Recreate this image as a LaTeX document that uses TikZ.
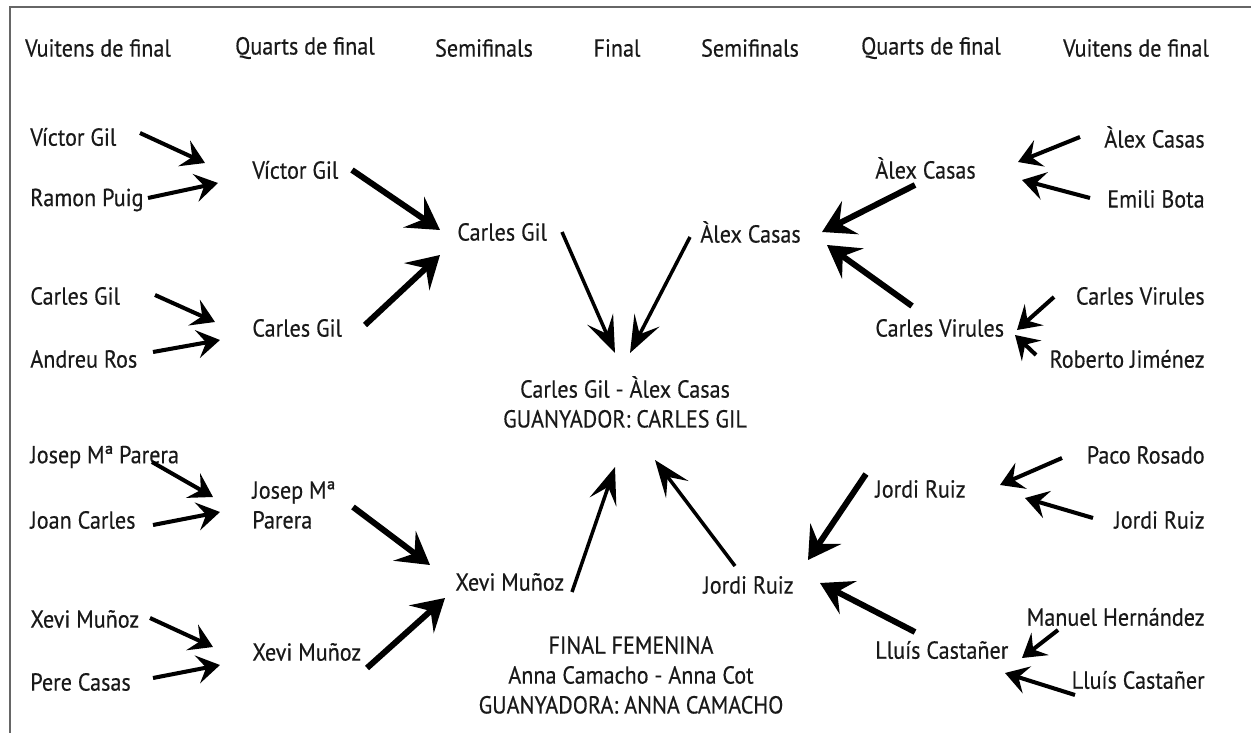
\documentclass[tikz,border=0pt]{standalone}
\usepackage{fontspec}
\setmainfont{PT Sans}[FakeStretch=0.9, FakeBold=0.4]
\usepackage{tikz}
\usetikzlibrary{arrows.meta,calc}

\begin{document}
\begin{tikzpicture}[x=0.02cm, y=-0.02cm,
    every node/.style={inner sep=0pt, text=black!90, font=\fontsize{14}{17}\selectfont},
    arr/.style={line width=2.3pt, -{Stealth[length=13pt, width=16pt, inset=5pt]}},
    arrbig/.style={line width=3.4pt, -{Stealth[length=18pt, width=21pt, inset=7pt]}},
    arrmid/.style={line width=2pt, -{Stealth[length=21pt, width=16pt, inset=9pt]}}]
  \useasboundingbox (0,0) rectangle (1251,733);
  \draw[black!60, line width=0.9pt] (10,733) -- (10,7) -- (1251,7);

  % rondes
  \node (hVL) at (98,48) {Vuitens de final};
  \node (hQL) at (305,48) {Quarts de final};
  \node (hSL) at (484,48) {Semifinals};
  \node (hF) at (617,48) {Final};
  \node (hSR) at (750,48) {Semifinals};
  \node (hQR) at (931,48) {Quarts de final};
  \node (hVR) at (1136,48) {Vuitens de final};

  % vuitens, esquerra
  \node (vl1) at (30,137) [anchor=west] {Víctor Gil};
  \node (vl2) at (30,200) [anchor=west] {Ramon Puig};
  \node (vl3) at (30,296) [anchor=west] {Carles Gil};
  \node (vl4) at (30,359) [anchor=west] {Andreu Ros};
  \node (vl5) at (30,457) [anchor=west] {Josep Mª Parera};
  \node (vl6) at (30,520) [anchor=west] {Joan Carles};
  \node (vl7) at (30,619) [anchor=west] {Xevi Muñoz};
  \node (vl8) at (30,682) [anchor=west] {Pere Casas};

  % quarts, esquerra
  \node (ql1) at (252,170) [anchor=west] {Víctor Gil};
  \node (ql2) at (252,328) [anchor=west] {Carles Gil};
  \node (ql3) at (252,505) [anchor=west, align=left] {Josep Mª\\Parera};
  \node (ql4) at (252,652) [anchor=west] {Xevi Muñoz};

  % semifinals
  \node (sl1) at (457,232) [anchor=west] {Carles Gil};
  \node (sl2) at (455,582) [anchor=west] {Xevi Muñoz};
  \node (sr1) at (700,232) [anchor=west] {Àlex Casas};
  \node (sr2) at (703,585) [anchor=west] {Jordi Ruiz};

  % finals
  \node (fin) at (625,402) [align=center] {Carles Gil - Àlex Casas\\GUANYADOR: CARLES GIL};
  \node (fem) at (631,675) [align=center] {FINAL FEMENINA\\Anna Camacho - Anna Cot\\GUANYADORA: ANNA CAMACHO};

  % quarts, dreta
  \node (qr1) at (875,168) [anchor=west] {Àlex Casas};
  \node (qr2) at (875,328) [anchor=west] {Carles Virules};
  \node (qr3) at (875,489) [anchor=west] {Jordi Ruiz};
  \node (qr4) at (875,650) [anchor=west] {Lluís Castañer};

  % vuitens, dreta
  \node (vr1) at (1205,137) [anchor=east] {Àlex Casas};
  \node (vr2) at (1205,199) [anchor=east] {Emili Bota};
  \node (vr3) at (1205,296) [anchor=east] {Carles Virules};
  \node (vr4) at (1205,359) [anchor=east] {Roberto Jiménez};
  \node (vr5) at (1205,455) [anchor=east] {Paco Rosado};
  \node (vr6) at (1205,520) [anchor=east] {Jordi Ruiz};
  \node (vr7) at (1205,617) [anchor=east] {Manuel Hernández};
  \node (vr8) at (1205,680) [anchor=east] {Lluís Castañer};

  % vuitens -> quarts
  \draw[arr] ($(vl1.west)+(110,-4)$) -- ($(ql1.west)+(-47,-7)$);
  \draw[arr] ($(vl2.west)+(118,-2)$) -- ($(ql1.west)+(-34,13)$);
  \draw[arr] ($(vl3.west)+(125,-1)$) -- ($(ql2.west)+(-37,-6)$);
  \draw[arr] ($(vl4.west)+(123,-7)$) -- ($(ql2.west)+(-32,12)$);
  \draw[arr] ($(vl5.west)+(122,5)$) -- ($(ql3.west)+(-39,-8)$);
  \draw[arr] ($(vl6.west)+(123,5)$) -- ($(ql3.west)+(-32,7)$);
  \draw[arr] ($(vl7.west)+(120,-1)$) -- ($(ql4.west)+(-39,-5)$);
  \draw[arr] ($(vl8.west)+(123,-4)$) -- ($(ql4.west)+(-32,13)$);
  \draw[arr] ($(vr1.east)+(-125,0)$) -- ($(qr1.west)+(143,-6)$);
  \draw[arr] ($(vr2.east)+(-115,-1)$) -- ($(qr1.west)+(147,12)$);
  \draw[arr] ($(vr3.east)+(-151,1)$) -- ($(qr2.west)+(142,2)$);
  \draw[arr] ($(vr4.east)+(-169,-4)$) -- ($(qr2.west)+(140,7)$);
  \draw[arr] ($(vr5.east)+(-143,3)$) -- ($(qr3.west)+(125,-4)$);
  \draw[arr] ($(vr6.east)+(-112,-2)$) -- ($(qr3.west)+(150,9)$);
  \draw[arr] ($(vr7.east)+(-147,13)$) -- ($(qr4.west)+(147,8)$);
  \draw[arr] ($(vr8.east)+(-130,15)$) -- ($(qr4.west)+(130,23)$);

  % quarts -> semifinals
  \draw[arrbig] ($(ql1.west)+(100,0)$) -- ($(sl1.west)+(-17,-2)$);
  \draw[arrbig] ($(ql2.west)+(113,-3)$) -- ($(sl1.west)+(-17,23)$);
  \draw[arrbig] ($(ql3.west)+(101,2)$) -- ($(sl2.west)+(-25,-17)$);
  \draw[arrbig] ($(ql4.west)+(115,16)$) -- ($(sl2.west)+(-10,16)$);
  \draw[arrbig] ($(qr1.west)+(40,17)$) -- ($(sr1.west)+(122,0)$);
  \draw[arrbig] ($(qr2.west)+(37,-22)$) -- ($(sr1.west)+(127,13)$);
  \draw[arrbig] ($(qr3.west)+(-9,-15)$) -- ($(sr2.west)+(105,-25)$);
  \draw[arrbig] ($(qr4.west)+(40,-18)$) -- ($(sr2.west)+(117,-2)$);

  % semifinals -> final
  \draw[arrmid] ($(sl1.west)+(105,0)$) -- ($(fin)+(-10,-49)$);
  \draw[arrmid] ($(sr1.west)+(-10,5)$) -- ($(fin)+(5,-49)$);
  \draw[arrmid] ($(sl2.west)+(117,10)$) -- ($(fin)+(-10,65)$);
  \draw[arrmid] ($(sr2.west)+(32,-19)$) -- ($(fin)+(30,58)$);
\end{tikzpicture}
\end{document}
